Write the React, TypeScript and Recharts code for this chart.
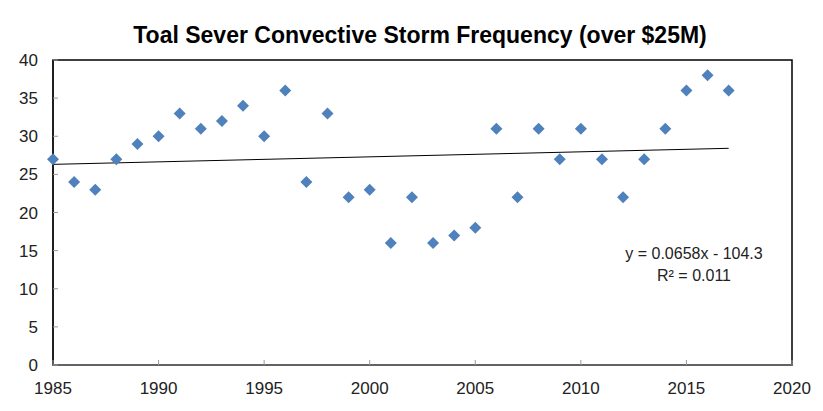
import { ScatterChart, Scatter, XAxis, YAxis, ReferenceLine, ReferenceArea } from "recharts"

const years = [
  1985, 1986, 1987, 1988, 1989, 1990, 1991, 1992, 1993, 1994, 1995, 1996, 1997, 1998, 1999, 2000, 2001,
  2002, 2003, 2004, 2005, 2006, 2007, 2008, 2009, 2010, 2011, 2012, 2013, 2014, 2015, 2016, 2017,
]
const counts = [
  27, 24, 23, 27, 29, 30, 33, 31, 32, 34, 30, 36, 24, 33, 22, 23, 16,
  22, 16, 17, 18, 31, 22, 31, 27, 31, 27, 22, 27, 31, 36, 38, 36,
]
const xTicks = [1985, 1990, 1995, 2000, 2005, 2010, 2015, 2020]
const yTicks = [0, 5, 10, 15, 20, 25, 30, 35, 40]
const slope = 0.0658
const intercept = -104.3

const points = years.map((year, i) => ({ year, count: counts[i] }))
const trend = [years[0], years[years.length - 1]].map((x) => ({ x, y: slope * x + intercept }))

const font = "'Liberation Sans Narrow', 'Liberation Sans', sans-serif"

function Diamond(props: any) {
  const { cx, cy } = props
  return <polygon points={`${cx},${cy - 6} ${cx + 6},${cy} ${cx},${cy + 6} ${cx - 6},${cy}`} fill="#4F81BD" />
}

function YTick({ x, y, payload }: any) {
  return (
    <g>
      <line x1={x} x2={x + 5} y1={y} y2={y} stroke="#999" />
      <text x={x - 15} y={y + 6} textAnchor="end" fontSize={17} fill="#222" fontFamily={font}>
        {payload.value}
      </text>
    </g>
  )
}

function XTick({ x, y, payload }: any) {
  return (
    <g>
      <line x1={x} x2={x} y1={y} y2={y - 5} stroke="#999" />
      <text x={x} y={y + 29} textAnchor="middle" fontSize={17} fill="#222" fontFamily={font}>
        {payload.value}
      </text>
    </g>
  )
}

export default function App() {
  return (
    <div style={{ position: "relative", width: 823, height: 411, margin: -8, background: "#fff", overflow: "hidden" }}>
      <div style={{ position: "absolute", left: 4, top: 3, width: 830, height: 420, borderLeft: "2px solid #8c8c8c", borderTop: "2px solid #8c8c8c" }} />
      <div style={{ position: "absolute", left: 0, width: 840, top: 22, textAlign: "center", fontFamily: font, fontWeight: "bold", fontSize: 23, color: "#000" }}>
        Toal Sever Convective Storm Frequency (over $25M)
      </div>
      <ScatterChart width={823} height={411} margin={{ top: 60, right: 31, bottom: 0, left: 0 }} style={{ position: "absolute", left: 0, top: 0 }}>
        <XAxis
          type="number"
          dataKey="year"
          domain={[1985, 2020]}
          ticks={xTicks}
          height={46}
          tickSize={0}
          tickMargin={0}
          tickLine={false}
          axisLine={{ stroke: "#888" }}
          tick={<XTick />}
          interval={0}
        />
        <YAxis
          type="number"
          dataKey="count"
          domain={[0, 40]}
          ticks={yTicks}
          width={53}
          tickSize={0}
          tickMargin={0}
          tickLine={false}
          axisLine={{ stroke: "#000" }}
          tick={<YTick />}
          interval={0}
        />
        <ReferenceArea x1={1985} x2={2020} y1={0} y2={40} fill="none" stroke="#000" strokeWidth={1.5} />
        <ReferenceLine segment={trend} stroke="#000" strokeWidth={1} />
        <Scatter data={points} shape={<Diamond />} isAnimationActive={false} />
      </ScatterChart>
      <div style={{ position: "absolute", left: 574, width: 240, top: 243, textAlign: "center", fontFamily: font, fontSize: 16, lineHeight: "22px", color: "#222" }}>
        y = 0.0658x - 104.3
        <br />
        R² = 0.011
      </div>
    </div>
  )
}
